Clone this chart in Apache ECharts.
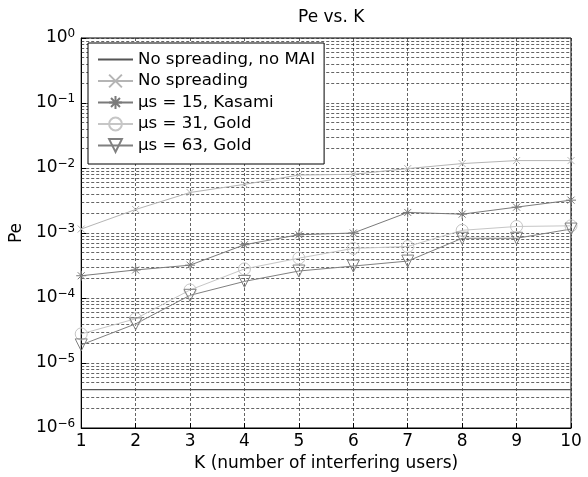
<!DOCTYPE html>
<html>
<head>
<meta charset="utf-8">
<script src="https://cdn.jsdelivr.net/npm/echarts@6/dist/echarts.min.js"></script>
<style>
html,body{margin:0;padding:0;background:#fff;}
#chart{width:588px;height:477px;}
</style>
</head>
<body>
<div id="chart"></div>
<script>
// ---- data ----
var K = [1, 2, 3, 4, 5, 6, 7, 8, 9, 10];
var noSpreadNoMAI = [3.9e-6, 3.9e-6, 3.9e-6, 3.9e-6, 3.9e-6, 3.9e-6, 3.9e-6, 3.9e-6, 3.9e-6, 3.9e-6];
var noSpread = [1.15e-3, 2.3e-3, 4.2e-3, 5.6e-3, 7.8e-3, 8.0e-3, 9.8e-3, 1.17e-2, 1.3e-2, 1.3e-2];
var kasami15 = [2.2e-4, 2.7e-4, 3.2e-4, 6.6e-4, 9.4e-4, 1.0e-3, 2.07e-3, 1.95e-3, 2.5e-3, 3.2e-3];
var gold31 = [2.8e-5, 4.8e-5, 1.33e-4, 2.8e-4, 4.1e-4, 5.8e-4, 6.2e-4, 1.1e-3, 1.26e-3, 1.29e-3];
var gold63 = [1.9e-5, 4.0e-5, 1.1e-4, 1.8e-4, 2.6e-4, 3.1e-4, 3.7e-4, 8.3e-4, 8.3e-4, 1.15e-3];
var seriesNames = ['No spreading, no MAI', 'No spreading', 'μs = 15, Kasami', 'μs = 31, Gold', 'μs = 63, Gold'];
var yMinExp = -6, yMaxExp = 0;

function pairs(arr) { return K.map(function (k, i) { return [k, arr[i]]; }); }

// minor grid values (2..9 x 10^e)
var minorLines = [];
for (var e = yMinExp; e < yMaxExp; e++) {
  for (var m = 2; m <= 9; m++) minorLines.push({ yAxis: m * Math.pow(10, e) });
}

var FONT = '"DejaVu Sans", "Liberation Sans", Arial, sans-serif';
var gridLine = { color: '#222', width: 0.7, type: [3, 2] };

var xPath = 'path://M0,0L10,10M10,0L0,10';
var starPath = 'path://M5,0L5,10M0,5L10,5M1.5,1.5L8.5,8.5M8.5,1.5L1.5,8.5';

function mkSeries(name, data, color, symbol, size, rotate) {
  return {
    name: name, type: 'line', data: pairs(data),
    symbol: symbol, symbolSize: size, symbolRotate: rotate || 0,
    showSymbol: symbol !== 'none',
    color: color,
    lineStyle: { color: color, width: 1 },
    itemStyle: { color: 'rgba(255,255,255,0)', borderColor: color, borderWidth: 1 },
    emphasis: { disabled: true },
    animation: false, z: 5
  };
}

var series = [
  mkSeries(seriesNames[0], noSpreadNoMAI, '#555555', 'none', 0),
  mkSeries(seriesNames[1], noSpread, '#b5b5b5', xPath, 7),
  mkSeries(seriesNames[2], kasami15, '#7a7a7a', starPath, 10),
  mkSeries(seriesNames[3], gold31, '#c6c6c6', 'circle', 12),
  mkSeries(seriesNames[4], gold63, '#808080', 'triangle', 12, 180)
];
series[0].lineStyle.width = 1.2;
series[0].itemStyle = { color: 'rgba(255,255,255,0)', borderColor: 'rgba(255,255,255,0)', borderWidth: 0 };
series[0].markLine = {
  silent: true, symbol: ['none', 'none'], label: { show: false }, precision: 12,
  lineStyle: { color: '#222', width: 0.7, type: [3, 2] },
  data: minorLines, animation: false, z: 1
};

var chart = echarts.init(document.getElementById('chart'), null, { renderer: 'canvas' });
chart.setOption({
  animation: false,
  backgroundColor: '#fff',
  textStyle: { fontFamily: FONT },
  title: {
    text: 'Pe vs. K', left: 293, top: 4,
    textStyle: { fontFamily: FONT, fontSize: 17, fontWeight: 'normal', color: '#000' }
  },
  grid: { left: 80, right: 17, top: 38, bottom: 47, show: true, borderColor: '#000', borderWidth: 1, backgroundColor: 'transparent' },
  legend: {
    orient: 'vertical', left: 88, top: 43,
    backgroundColor: '#fff', borderColor: '#000', borderWidth: 1,
    padding: [8, 9, 10, 9], itemGap: 4.5, itemWidth: 35, itemHeight: 16,
    textStyle: { fontFamily: FONT, fontSize: 16.6, color: '#000', lineHeight: 17 },
    data: seriesNames, selectedMode: false
  },
  xAxis: {
    type: 'value', min: 1, max: 10, interval: 1,
    name: 'K (number of interfering users)', nameLocation: 'middle', nameGap: 27,
    nameTextStyle: { fontFamily: FONT, fontSize: 17, color: '#000' },
    axisLine: { show: true, lineStyle: { color: '#000', width: 1 } },
    axisTick: { show: true, inside: true, length: 5, lineStyle: { color: '#000' } },
    axisLabel: { fontFamily: FONT, fontSize: 17, color: '#000', margin: 5 },
    splitLine: { show: true, lineStyle: gridLine }
  },
  yAxis: {
    type: 'log', logBase: 10, min: Math.pow(10, yMinExp), max: Math.pow(10, yMaxExp), splitNumber: 6,
    name: 'Pe', nameLocation: 'middle', nameGap: 50,
    nameTextStyle: { fontFamily: FONT, fontSize: 17, color: '#000' },
    axisLine: { show: true, lineStyle: { color: '#000', width: 1 } },
    axisTick: { show: true, inside: true, length: 5, lineStyle: { color: '#000' } },
    axisLabel: {
      margin: 6,
      formatter: function (v) {
        var ex = Math.round(Math.log10(v));
        return '{b|10}{s|' + (ex < 0 ? '\u2212' + (-ex) : ex) + '}';
      },
      rich: {
        b: { fontFamily: FONT, fontSize: 17, color: '#000' },
        s: { fontFamily: FONT, fontSize: 12, color: '#000', verticalAlign: 'top', padding: [0, 0, 9, 0] }
      }
    },
    splitLine: { show: true, lineStyle: gridLine }
  },
  series: series
});
</script>
</body>
</html>
